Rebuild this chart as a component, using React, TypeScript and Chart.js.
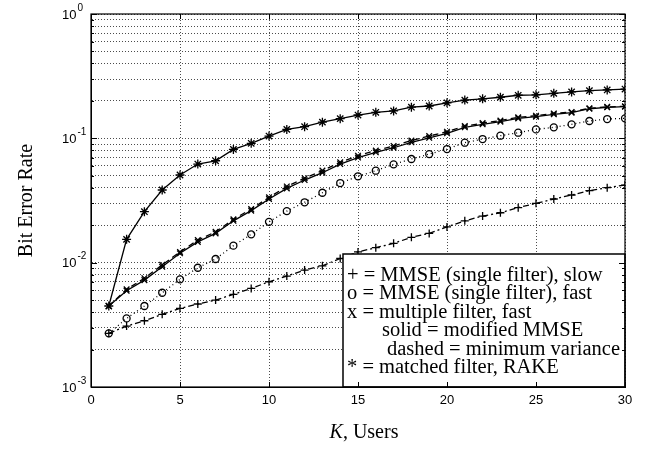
import React, { useEffect, useRef } from 'react';
import { Chart, registerables } from 'chart.js';

Chart.register(...registerables);

const users = [1, 2, 3, 4, 5, 6, 7, 8, 9, 10, 11, 12, 13, 14, 15, 16, 17, 18, 19, 20, 21, 22, 23, 24, 25, 26, 27, 28, 29, 30];

const mmseSlow = [0.0027, 0.00309, 0.00341, 0.00384, 0.00429, 0.00465, 0.005, 0.00556, 0.00621, 0.00702, 0.0078, 0.00872, 0.00944, 0.0108, 0.0122, 0.0132, 0.0143, 0.016, 0.0172, 0.0194, 0.0217, 0.0237, 0.0252, 0.0277, 0.03, 0.0325, 0.035, 0.0379, 0.0401, 0.0421];

const mmseFast = [0.0027, 0.00356, 0.00448, 0.00573, 0.00734, 0.0091, 0.0107, 0.0137, 0.0169, 0.0213, 0.026, 0.0306, 0.0365, 0.0437, 0.0495, 0.0549, 0.0618, 0.0682, 0.0747, 0.082, 0.0922, 0.0987, 0.105, 0.111, 0.118, 0.1226, 0.1296, 0.1378, 0.1429, 0.1448];

const multiSolid = [0.00448, 0.00594, 0.00724, 0.00927, 0.0119, 0.0147, 0.0172, 0.0217, 0.0262, 0.0325, 0.0396, 0.0462, 0.0529, 0.0621, 0.0701, 0.0772, 0.084, 0.0929, 0.101, 0.1097, 0.1226, 0.1296, 0.136, 0.1448, 0.1492, 0.156, 0.1607, 0.173, 0.1776, 0.1796];

const multiDashed = [0.00448, 0.0061, 0.0075, 0.0096, 0.0122, 0.0152, 0.0177, 0.0223, 0.027, 0.0335, 0.041, 0.0478, 0.055, 0.0642, 0.0725, 0.0798, 0.0868, 0.096, 0.1043, 0.113, 0.1255, 0.1325, 0.139, 0.1475, 0.152, 0.1585, 0.163, 0.1745, 0.179, 0.181];

const rake = [0.00448, 0.0154, 0.0257, 0.0384, 0.0507, 0.0621, 0.066, 0.0815, 0.0912, 0.1043, 0.118, 0.124, 0.135, 0.144, 0.154, 0.162, 0.166, 0.178, 0.182, 0.193, 0.203, 0.208, 0.214, 0.222, 0.224, 0.23, 0.236, 0.242, 0.245, 0.249];

const xTickValues = [0, 5, 10, 15, 20, 25, 30];
const yDecades = [0.001, 0.01, 0.1, 1];
const yExponents = ['-3', '-2', '-1', '0'];
const yMultipliers = [1, 2, 3, 4, 5, 6, 7, 8, 9];

const legendLines = [
  { text: '+ = MMSE (single filter), slow', indent: 0 },
  { text: 'o = MMSE (single filter), fast', indent: 0 },
  { text: 'x = multiple filter, fast', indent: 0 },
  { text: 'solid = modified MMSE', indent: 35 },
  { text: 'dashed = minimum variance', indent: 40 },
  { text: '* = matched filter, RAKE', indent: 0 },
];

const xTitle = 'Users';
const xTitleVar = 'K';
const yTitle = 'Bit Error Rate';

const SANS = '"Liberation Sans", Arial, Helvetica, sans-serif';
const SERIF = '"Liberation Serif", "Times New Roman", Times, serif';

function yTickList() {
  const out: { value: number }[] = [];
  for (let d = 0; d < yDecades.length - 1; d++) {
    for (const m of yMultipliers) out.push({ value: yDecades[d] * m });
  }
  out.push({ value: yDecades[yDecades.length - 1] });
  return out;
}

const framePlugin = {
  id: 'framePlugin',
  afterDraw(chart: any) {
    const { ctx, chartArea } = chart;
    const xs = chart.scales.x;
    const ys = chart.scales.y;
    const { left, right, top, bottom } = chartArea;
    ctx.save();

    // legend box
    const lx = 343, ly = 254, lw = right - 343, lh = bottom - 254;
    ctx.fillStyle = '#fff';
    ctx.fillRect(lx, ly, lw, lh);
    ctx.strokeStyle = '#000';
    ctx.lineWidth = 1.5;
    ctx.strokeRect(lx, ly, lw, lh);
    ctx.fillStyle = '#000';
    ctx.font = `20.5px ${SERIF}`;
    ctx.textAlign = 'left';
    ctx.textBaseline = 'alphabetic';
    legendLines.forEach((l, i) => {
      ctx.fillText(l.text, 347 + l.indent, 281 + i * 18.4);
    });

    // frame
    ctx.lineWidth = 1.2;
    ctx.strokeStyle = '#000';
    ctx.strokeRect(left, top, right - left, bottom - top);

    // inward ticks
    ctx.lineWidth = 1;
    ctx.beginPath();
    xTickValues.forEach((v) => {
      const x = Math.round(xs.getPixelForValue(v)) + 0.5;
      ctx.moveTo(x, bottom); ctx.lineTo(x, bottom - 5);
      ctx.moveTo(x, top); ctx.lineTo(x, top + 5);
    });
    yTickList().forEach((t) => {
      const y = Math.round(ys.getPixelForValue(t.value)) + 0.5;
      const major = yDecades.includes(t.value);
      const len = major ? 6 : 3;
      ctx.moveTo(left, y); ctx.lineTo(left + len, y);
      ctx.moveTo(right, y); ctx.lineTo(right - len, y);
    });
    ctx.stroke();

    // y tick labels 10^n
    ctx.textAlign = 'left';
    ctx.textBaseline = 'middle';
    yDecades.forEach((v, i) => {
      const y = ys.getPixelForValue(v);
      ctx.font = `13px ${SANS}`;
      ctx.fillText('10', 62, y + 1);
      const w = ctx.measureText('10').width;
      ctx.font = `10px ${SANS}`;
      ctx.fillText(yExponents[i], 62 + w + 1, y - 6);
    });

    // y title
    ctx.save();
    ctx.translate(27, (top + bottom) / 2);
    ctx.rotate(-Math.PI / 2);
    ctx.font = `20px ${SERIF}`;
    ctx.textAlign = 'center';
    ctx.textBaseline = 'middle';
    ctx.fillText(yTitle, 0, 0);
    ctx.restore();

    // x title
    ctx.textBaseline = 'alphabetic';
    ctx.textAlign = 'left';
    ctx.font = `italic 20px ${SERIF}`;
    const kw = ctx.measureText(xTitleVar).width;
    ctx.font = `20px ${SERIF}`;
    const rest = ', ' + xTitle;
    const rw = ctx.measureText(rest).width;
    const startX = 364 - (kw + rw) / 2;
    ctx.font = `italic 20px ${SERIF}`;
    ctx.fillText(xTitleVar, startX, 438);
    ctx.font = `20px ${SERIF}`;
    ctx.fillText(rest, startX + kw, 438);

    ctx.restore();
  },
};

export default function App() {
  const ref = useRef<HTMLCanvasElement | null>(null);

  useEffect(() => {
    if (!ref.current) return;
    const mk = (data: number[], style: any, dash: number[], radius: number, bw = 1.3) => ({
      data: users.map((u, i) => ({ x: u, y: data[i] })),
      borderColor: '#000',
      backgroundColor: 'rgba(0,0,0,0)',
      borderWidth: 1.3,
      borderDash: dash,
      pointStyle: style,
      pointRadius: radius,
      pointBorderColor: '#000',
      pointBackgroundColor: 'rgba(0,0,0,0)',
      pointBorderWidth: bw,
      tension: 0,
    });
    const chart = new Chart(ref.current, {
      type: 'line',
      data: {
        datasets: [
          mk(mmseSlow, 'cross', [6, 3, 2, 3], 4),
          mk(mmseFast, 'circle', [1, 3], 3.5),
          mk(multiDashed, 'crossRot', [6, 4], 4),
          mk(multiSolid, 'crossRot', [], 4),
          mk(rake, 'star', [], 4.5),
        ] as any,
      },
      options: {
        animation: false,
        responsive: false,
        maintainAspectRatio: false,
        layout: { padding: { left: 0, right: 20, top: 14, bottom: 0 } },
        plugins: { legend: { display: false }, tooltip: { enabled: false } },
        scales: {
          x: {
            type: 'linear',
            min: 0,
            max: 30,
            ticks: {
              stepSize: 5,
              color: '#000',
              padding: 6,
              maxRotation: 0,
              font: { family: SANS, size: 13 },
            },
            grid: { color: 'rgba(0,0,0,0.7)', lineWidth: 1, drawTicks: false },
            border: { display: true, color: '#000', width: 1, dash: [1, 2] },
            afterFit: (s: any) => { s.height = 65; },
          },
          y: {
            type: 'logarithmic',
            min: 0.001,
            max: 1,
            ticks: { display: false },
            grid: { color: 'rgba(0,0,0,0.7)', lineWidth: 1, drawTicks: false },
            border: { display: true, color: '#000', width: 1, dash: [1, 2] },
            afterBuildTicks: (s: any) => { s.ticks = yTickList(); },
            afterFit: (s: any) => { s.width = 91; },
          },
        },
      } as any,
      plugins: [framePlugin],
    });
    return () => chart.destroy();
  }, []);

  return (
    <div style={{ position: 'fixed', left: 0, top: 0, width: 645, height: 452, background: '#fff' }}>
      <canvas ref={ref} width={645} height={452} style={{ display: 'block' }} />
    </div>
  );
}
